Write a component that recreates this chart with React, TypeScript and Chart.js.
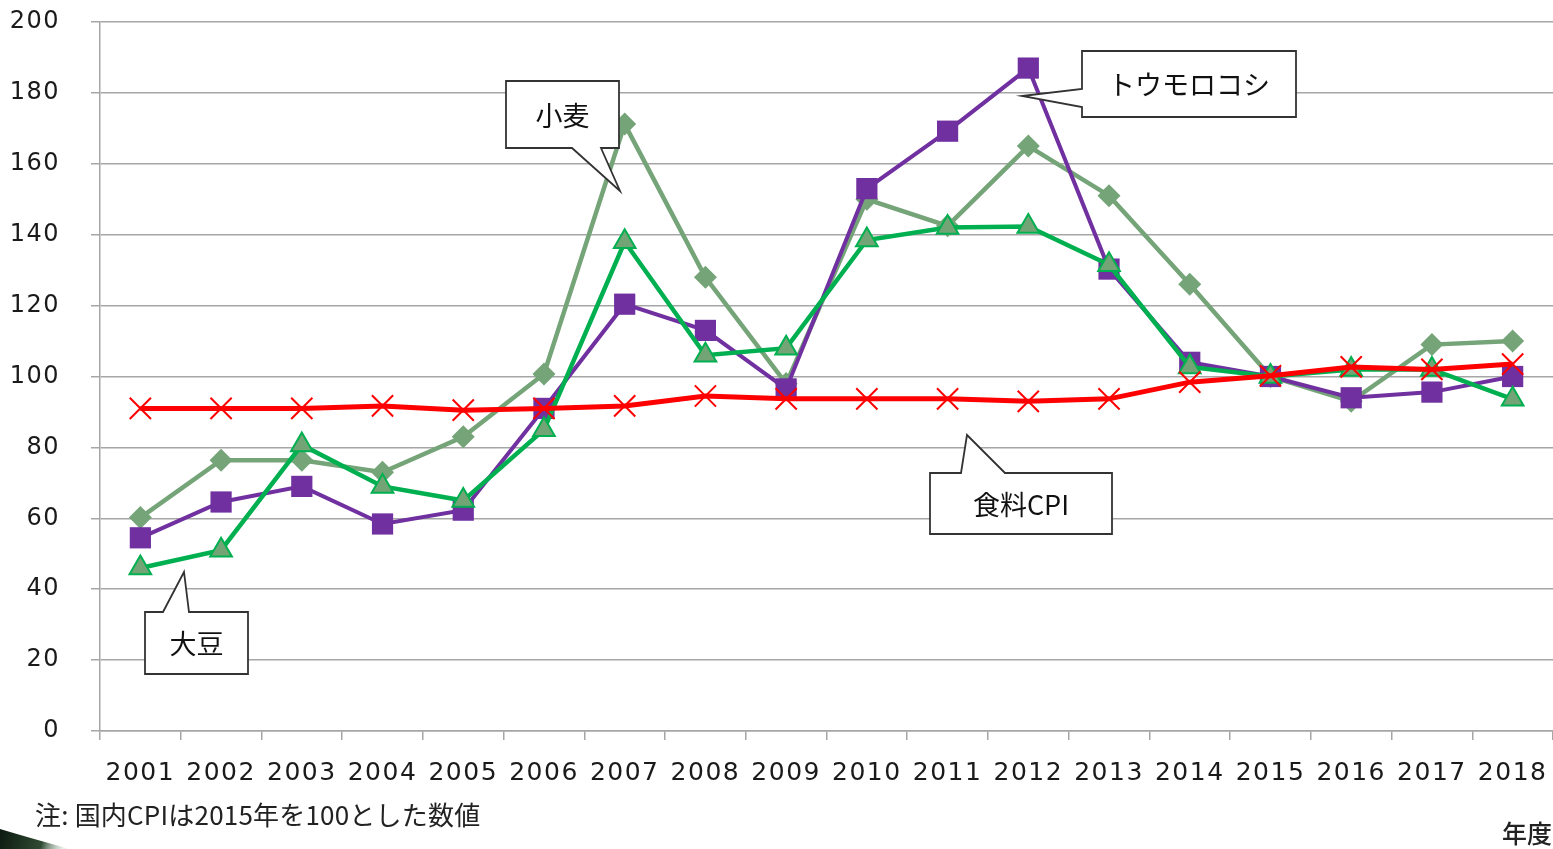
import React, { useEffect, useRef } from "react";
import { Chart, registerables } from "chart.js";

Chart.register(...registerables);

const years = ["2001","2002","2003","2004","2005","2006","2007","2008","2009","2010","2011","2012","2013","2014","2015","2016","2017","2018"];
const foodCpi = [91, 91, 91, 91.7, 90.5, 91, 91.7, 94.5, 93.7, 93.7, 93.7, 93, 93.7, 98.4, 100.2, 102.7, 102, 103.5];
const soybean = [46, 51, 80.7, 69, 65, 85, 138, 106, 108, 138.5, 142, 142.3, 131.5, 102.7, 100, 102, 102, 93.6];
const corn = [54.5, 64.6, 69, 58.4, 62.3, 91, 120.4, 113, 96.5, 153, 169.2, 187, 130.3, 104, 100, 94, 95.6, 100];
const wheat = [60.2, 76.4, 76.4, 73, 83, 100.7, 171.2, 128, 98, 150, 142.5, 165, 151, 126, 100, 93, 109, 110];
const yTicks = [0, 20, 40, 60, 80, 100, 120, 140, 160, 180, 200];

const noteText = "注: 国内CPIは2015年を100とした数値";
const unitText = "年度";

type Callout = { text: string; L: number; R: number; T: number; B: number; side: "top" | "bottom" | "left"; a: number; b: number; tx: number; ty: number };
const callouts: Callout[] = [
  { text: "小麦", L: 506, R: 619, T: 81, B: 148, side: "bottom", a: 572, b: 601, tx: 620, ty: 191 },
  { text: "トウモロコシ", L: 1082, R: 1296, T: 51, B: 117, side: "left", a: 89, b: 107, tx: 1022, ty: 96 },
  { text: "食料CPI", L: 930, R: 1112, T: 473, B: 534, side: "top", a: 961, b: 1005, tx: 967, ty: 435 },
  { text: "大豆", L: 145, R: 248, T: 612, B: 674, side: "top", a: 163, b: 189, tx: 184, ty: 572 },
];

const spacingPlugin = {
  id: "spacing",
  beforeDraw(chart: any) {
    (chart.ctx as any).letterSpacing = "1.5px";
  },
};

const overlayPlugin = {
  id: "overlay",
  afterDraw(chart: any) {
    const ctx = chart.ctx as CanvasRenderingContext2D;
    ctx.save();
    (ctx as any).letterSpacing = "0px";
    for (const c of callouts) {
      ctx.beginPath();
      if (c.side === "bottom") {
        ctx.moveTo(c.L, c.T); ctx.lineTo(c.R, c.T); ctx.lineTo(c.R, c.B);
        ctx.lineTo(c.b, c.B); ctx.lineTo(c.tx, c.ty); ctx.lineTo(c.a, c.B); ctx.lineTo(c.L, c.B);
      } else if (c.side === "top") {
        ctx.moveTo(c.L, c.T); ctx.lineTo(c.a, c.T); ctx.lineTo(c.tx, c.ty); ctx.lineTo(c.b, c.T);
        ctx.lineTo(c.R, c.T); ctx.lineTo(c.R, c.B); ctx.lineTo(c.L, c.B);
      } else {
        ctx.moveTo(c.L, c.T); ctx.lineTo(c.R, c.T); ctx.lineTo(c.R, c.B); ctx.lineTo(c.L, c.B);
        ctx.lineTo(c.L, c.b); ctx.lineTo(c.tx, c.ty); ctx.lineTo(c.L, c.a);
      }
      ctx.closePath();
      ctx.fillStyle = "#ffffff";
      ctx.fill();
      ctx.lineWidth = 1.8;
      ctx.strokeStyle = "#333333";
      ctx.stroke();
      ctx.fillStyle = "#111111";
      ctx.font = "27px 'Noto Sans CJK JP'";
      ctx.textAlign = "center";
      ctx.textBaseline = "middle";
      ctx.fillText(c.text, (c.L + c.R) / 2, (c.T + c.B) / 2 + 1);
    }
    ctx.fillStyle = "#222222";
    ctx.textAlign = "left";
    ctx.textBaseline = "middle";
    ctx.font = "26px 'Noto Sans CJK JP'";
    (ctx as any).letterSpacing = "0.2px";
    ctx.fillText(noteText, 35, 815);
    (ctx as any).letterSpacing = "0px";
    ctx.font = "500 25px 'Noto Sans CJK JP'";
    ctx.fillText(unitText, 1502, 833);
    const g = ctx.createLinearGradient(0, 830, 70, 849);
    g.addColorStop(0, "#0d1a10");
    g.addColorStop(0.6, "#2f4a33");
    g.addColorStop(1, "rgba(200,220,200,0)");
    ctx.beginPath();
    ctx.moveTo(0, 829);
    ctx.quadraticCurveTo(30, 838, 70, 849);
    ctx.lineTo(0, 849);
    ctx.closePath();
    ctx.fillStyle = g;
    ctx.fill();
    ctx.restore();
  },
};

export default function App() {
  const ref = useRef<HTMLCanvasElement | null>(null);
  useEffect(() => {
    document.body.style.margin = "0";
    const canvas = ref.current!;
    const chart = new Chart(canvas, {
      type: "line",
      data: {
        labels: years,
        datasets: [
          {
            label: "食料CPI", data: foodCpi, borderColor: "#FF0000", borderWidth: 5,
            pointStyle: "crossRot", pointRadius: 15, pointBorderColor: "#FF0000", pointBorderWidth: 2,
            pointBackgroundColor: "transparent", tension: 0,
          },
          {
            label: "大豆", data: soybean, borderColor: "#00B050", borderWidth: 4.5,
            pointStyle: "triangle", pointRadius: 12.5, pointBackgroundColor: "#72A476",
            pointBorderColor: "#00B050", pointBorderWidth: 2, tension: 0,
          },
          {
            label: "トウモロコシ", data: corn, borderColor: "#7030A0", borderWidth: 4,
            pointStyle: "rect", pointRadius: 15, pointBackgroundColor: "#7030A0",
            pointBorderColor: "#7030A0", pointBorderWidth: 0, tension: 0,
          },
          {
            label: "小麦", data: wheat, borderColor: "#74A478", borderWidth: 4.5,
            pointStyle: "rectRot", pointRadius: 11.5, pointBackgroundColor: "#74A478",
            pointBorderColor: "#74A478", pointBorderWidth: 0, tension: 0,
          },
        ],
      },
      options: {
        animation: false,
        responsive: false,
        devicePixelRatio: 1,
        layout: { autoPadding: false, padding: { top: 22, left: 0, right: 0, bottom: 0 } },
        plugins: { legend: { display: false }, tooltip: { enabled: false } },
        scales: {
          x: {
            type: "category",
            offset: true,
            grid: { offset: true, drawOnChartArea: false, drawTicks: true, tickLength: 9, color: "#A6A6A6", lineWidth: 1.5 },
            border: { display: true, color: "#A6A6A6", width: 1.5 },
            ticks: { font: { family: "DejaVu Sans", size: 25 }, color: "#1a1a1a", padding: 18, maxRotation: 0, autoSkip: false },
            afterFit: (s: any) => { s.height = 118; s.paddingLeft = 0; s.paddingRight = 0; },
          },
          y: {
            min: 0, max: 200,
            afterBuildTicks: (s: any) => { s.ticks = yTicks.map((v) => ({ value: v })); },
            grid: { color: "#A6A6A6", lineWidth: 1.5, tickLength: 9 },
            border: { display: true, color: "#A6A6A6", width: 1.5 },
            ticks: { font: { family: "DejaVu Sans", size: 24 }, color: "#1a1a1a", padding: 31 },
            afterFit: (s: any) => { s.width = 100; s.paddingTop = 0; s.paddingBottom = 0; },
          },
        },
      },
      plugins: [spacingPlugin, overlayPlugin],
    });
    return () => chart.destroy();
  }, []);
  return (
    <div style={{ position: "absolute", left: 0, top: 0, width: 1553, height: 849, background: "#fff" }}>
      <canvas ref={ref} width={1553} height={849} style={{ display: "block", width: 1553, height: 849 }} />
    </div>
  );
}
